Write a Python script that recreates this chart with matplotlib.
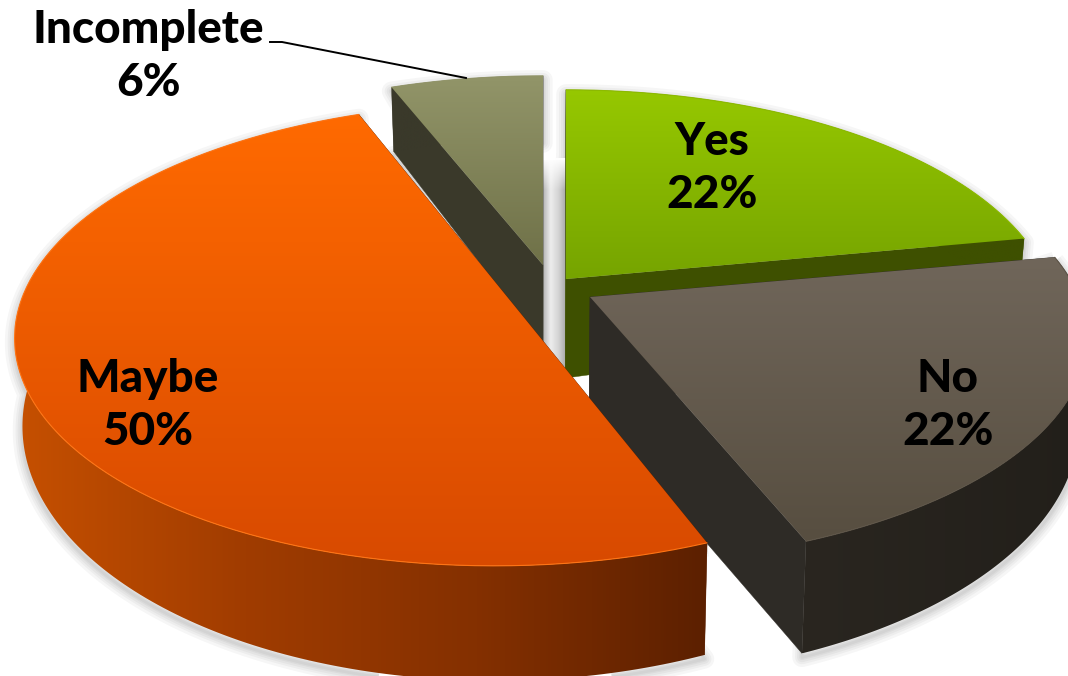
import numpy as np
import matplotlib
matplotlib.use("Agg")
import matplotlib.pyplot as plt
from matplotlib.patches import Polygon
from matplotlib.colors import LinearSegmentedColormap

categories = ["Yes", "No", "Maybe", "Incomplete"]
values = [22, 22, 50, 6]
pct_labels = ["22%", "22%", "50%", "6%"]

# per-slice layout: apex position (w = 1 plane), radii, skew
centers = {"Yes": (566, 279), "No": (590, 297), "Maybe": (504, 293), "Incomplete": (543, 265)}
radii = {"Yes": (482, 223), "No": (489, 219), "Maybe": (480, 224), "Incomplete": (480, 223)}
skew = {"Yes": 0, "No": 0, "Maybe": 8, "Incomplete": 0}
apex_depth = {"Yes": 99, "No": 110, "Maybe": 100, "Incomplete": 80}
PERSP = 0.179
DEPTH = 83
DEPTH_POW = 1.65
VP_X, VP_SHIFT = 540, 0.015

top_cols = {"Yes": ["#96C800", "#76A400"], "No": ["#70665A", "#574E40"],
            "Maybe": ["#FF6A00", "#D84A00"], "Incomplete": ["#929569", "#6F7148"]}
wall_cols = {"Yes": ["#3E5000", "#3E5000"], "No": ["#2A2620", "#221F1A"],
             "Maybe": ["#C65000", "#A03C00", "#843000", "#5C2000"], "Incomplete": ["#3A392A", "#3A392A"]}
cut_cols = {"Yes": "#3E5000", "No": "#2E2B26", "Maybe": "#5C2000", "Incomplete": "#3A392A"}
rim_cols = {"Yes": "#8DBB00", "No": "#5E5548", "Maybe": "#FF7414", "Incomplete": "#929569"}
draw_order = ["Incomplete", "Yes", "No", "Maybe"]
label_pos = {"Yes": (712, 155, 208), "No": (948, 392, 445), "Maybe": (148, 392, 445), "Incomplete": (148, 43, 96)}
leader = ([270, 282, 466], [42, 42, 78])

W, H = 1068, 676
fig = plt.figure(figsize=(W / 100, H / 100), dpi=100)
ax = fig.add_axes([0, 0, 1, 1])
ax.axis("off")


def project(name, theta):
    cx, cy = centers[name]
    rx, ry = radii[name]
    u, v = np.cos(theta), np.sin(theta)
    w = 1 + PERSP * v
    return cx + (rx * u + skew[name] * v) / w, cy - ry * v / w, w


def lower(x, y, w):
    return x - (x - VP_X) * VP_SHIFT, y + DEPTH / w ** DEPTH_POW


def gradient(xy, cols, vertical=True, z=1):
    xy = np.asarray(xy)
    x0, x1, y0, y1 = xy[:, 0].min(), xy[:, 0].max(), xy[:, 1].min(), xy[:, 1].max()
    cmap = LinearSegmentedColormap.from_list("g", cols)
    g = np.linspace(0, 1, 256)
    g = g[:, None] if vertical else g[None, :]
    im = ax.imshow(g, cmap=cmap, vmin=0, vmax=1, extent=(x0, x1, y1, y0), aspect="auto",
                   interpolation="bilinear", zorder=z)
    p = Polygon(xy, closed=True, transform=ax.transData, fc="none", ec="none")
    ax.add_patch(p)
    im.set_clip_path(p)


# slice geometry from the values
fractions = np.array(values) / sum(values)
edges = np.pi / 2 - 2 * np.pi * np.concatenate([[0], np.cumsum(fractions)])
span = {c: (edges[i], edges[i + 1]) for i, c in enumerate(categories)}

# soft shadows
for name in draw_order:
    a, b = span[name]
    t = np.linspace(a, b, 200)
    x, y, w = project(name, t)
    lx, ly = lower(x, y, w)
    cx, cy = centers[name]
    sil = np.column_stack([np.r_[x, lx[::-1], cx - (cx - VP_X) * VP_SHIFT], np.r_[y, ly[::-1], cy + apex_depth[name]]])
    for lw in (14, 10, 7, 4, 2):
        ax.add_patch(Polygon(sil + [0, 4], closed=True, fc="none", ec="#000000",
                             lw=lw, alpha=0.035, zorder=0.5, joinstyle="round"))

# highlight strip behind the gap, fading out at its top
gradient([(543, 160), (566, 160), (566, 378), (543, 378)],
         ["#B4B4B4", "#EDEDED", "#D5D5D5", "#A8A8A8"], vertical=False, z=0.8)
gradient([(543, 158), (566, 158), (566, 190), (543, 190)],
         [(1, 1, 1, 1), (1, 1, 1, 0)], vertical=True, z=0.85)

z = 1
for name in draw_order:
    a, b = span[name]
    t = np.linspace(a, b, 200)
    x, y, w = project(name, t)
    lx, ly = lower(x, y, w)
    cx, cy = centers[name]
    acx, acy = cx - (cx - VP_X) * VP_SHIFT, cy + apex_depth[name]

    # cut faces
    for i in (0, -1):
        quad = [(cx, cy), (x[i], y[i]), (lx[i], ly[i]), (acx, acy)]
        ax.add_patch(Polygon(quad, closed=True, fc=cut_cols[name], ec=cut_cols[name], lw=0.3, zorder=z))
    # outer wall
    gradient(np.column_stack([np.r_[x, lx[::-1]], np.r_[y, ly[::-1]]]), wall_cols[name], vertical=False, z=z + 0.1)
    # top face
    gradient(np.column_stack([np.r_[cx, x], np.r_[cy, y]]), top_cols[name], vertical=True, z=z + 0.2)
    ax.plot(x, y, color=rim_cols[name], lw=0.8, zorder=z + 0.3, solid_capstyle="round")
    z += 1

ax.plot(*leader, color="black", lw=1.4, zorder=20)

font = dict(family="Lato", weight="black", fontsize=33, color="black", ha="center", va="baseline", zorder=21)
for name, pct in zip(categories, pct_labels):
    px, y1, y2 = label_pos[name]
    ax.text(px, y1, name, **font)
    ax.text(px, y2, pct, **font)

ax.set_xlim(0, W)
ax.set_ylim(H, 0)
fig.savefig("out.png", dpi=100, facecolor="white")
